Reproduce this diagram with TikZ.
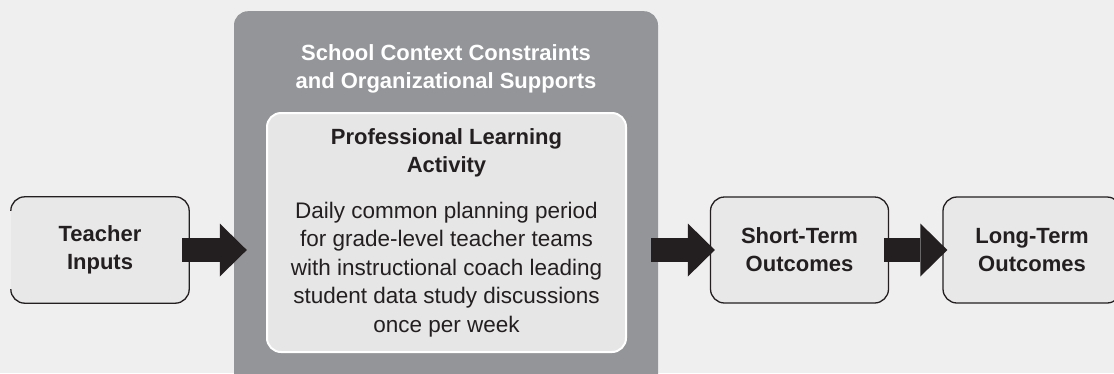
\documentclass[tikz,border=0pt]{standalone}
\usepackage{fontspec}
\setmainfont{Liberation Sans}
\usetikzlibrary{arrows.meta,calc}
\definecolor{bg}{HTML}{EFEFEF}
\definecolor{ctxgray}{HTML}{939598}
\definecolor{boxfill}{HTML}{E8E8E8}
\definecolor{plafill}{HTML}{E6E6E6}
\definecolor{ink}{HTML}{231F20}
\begin{document}
\begin{tikzpicture}[x=1pt,y=-1pt,
  stage/.style={minimum width=178pt, minimum height=106pt, inner sep=0pt,
    fill=boxfill, rounded corners=14pt, text=ink, align=center,
    font=\fontsize{22}{28}\selectfont\bfseries},
  edge/.style={draw=ink, line width=1.3pt, rounded corners=14pt},
  heading/.style={font=\fontsize{22}{28}\selectfont\bfseries, align=center, anchor=base, inner sep=0pt},
  bodytext/.style={font=\fontsize{22.5}{28.5}\selectfont, text=ink, align=center, anchor=base, inner sep=0pt},
  flow/.style={line width=24pt, draw=ink, -{Triangle[length=27pt,width=53pt,line width=0pt]}},
]
\useasboundingbox (0,0) rectangle (1114,373);
\fill[bg] (0,0) rectangle (1114,373);
\clip (0,0) rectangle (1114,373);

% context frame and the activity inside it (base anchors sit on the last line)
\node[fill=ctxgray, rounded corners=14pt, minimum width=424pt, minimum height=400pt,
      inner sep=0pt, anchor=north] (ctx) at (446,11) {};
\node[heading, text=white] (ctxlabel) at (446,88)
  {School Context Constraints\\and Organizational Supports};
\node[fill=plafill, draw=white, line width=2pt, rounded corners=14pt,
      minimum width=359pt, minimum height=239pt, inner sep=0pt] (pla) at (446.5,232.5) {};
\node[heading, text=ink] (plahead) at (446.5,172) {Professional Learning\\Activity};
\node[bodytext] (plabody) at (446.5,332)
  {Daily common planning period\\for grade-level teacher teams\\with instructional coach leading\\student data study discussions\\once per week};

% stages of the model
\node[stage] (ti) at (100,250) {Teacher\\Inputs};
\draw[edge] ($(ti.south west)!14pt!(ti.north west)$) -- (ti.south west) -- (ti.south east)
  -- (ti.north east) -- (ti.north west) -- ($(ti.north west)!14pt!(ti.south west)$);
\node[stage, draw=ink, line width=1.3pt] (sto) at (799.5,250) {Short-Term\\Outcomes};
\node[stage, draw=ink, line width=1.3pt] (lto) at (1032,250) {Long-Term\\Outcomes};

% flow arrows
\draw[flow] ($(ti.east)+(-7,0)$) -- ($(ctx.west |- ti.east)+(13,0)$);
\draw[flow] ($(ctx.east |- sto.west)+(-7,0)$) -- ($(sto.west)+(5,0)$);
\draw[flow] ($(sto.east)+(-5,0)$) -- ($(lto.west)+(5,0)$);
\end{tikzpicture}
\end{document}
